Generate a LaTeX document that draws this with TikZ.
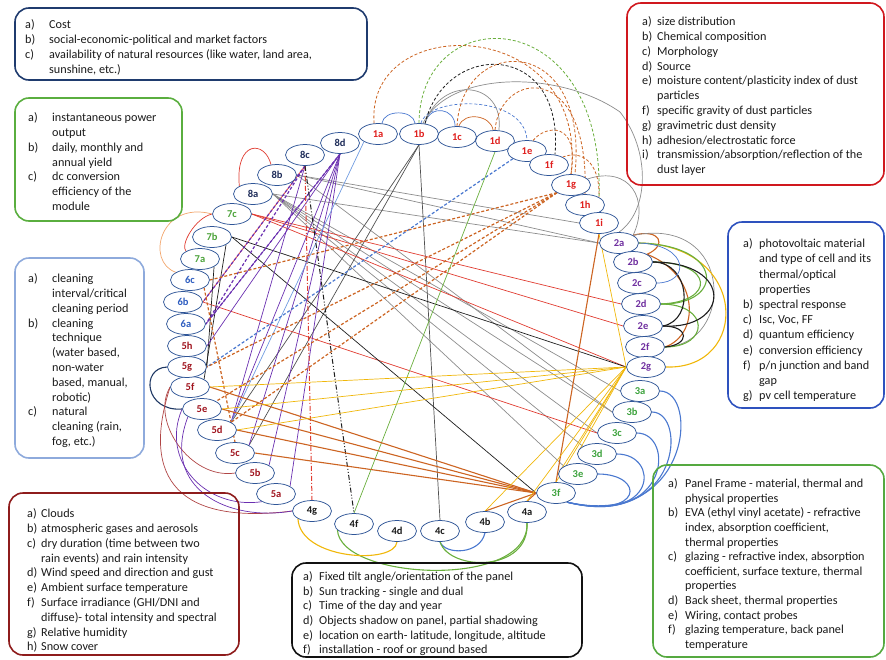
\documentclass[tikz,border=0pt]{standalone}
\usepackage{fontspec}
\setmainfont{Carlito}
\usetikzlibrary{shapes.geometric,backgrounds}
\definecolor{elb}{HTML}{2F5597}
\definecolor{c1}{HTML}{E0201E}
\definecolor{c2}{HTML}{7030A0}
\definecolor{c3}{HTML}{3DA33D}
\definecolor{c4}{HTML}{1A1A1A}
\definecolor{c5}{HTML}{A0141E}
\definecolor{c6}{HTML}{2E5DC0}
\definecolor{c7}{HTML}{4CA33A}
\definecolor{c8}{HTML}{1F2D5A}
\definecolor{cred}{HTML}{E03C31}
\definecolor{corange}{HTML}{CC6422}
\definecolor{cyellow}{HTML}{F0B70A}
\definecolor{cgray}{HTML}{8C8C8C}
\definecolor{cdgray}{HTML}{505050}
\definecolor{cblack}{HTML}{1E1E1E}
\definecolor{cpurple}{HTML}{6A2FB0}
\definecolor{clblue}{HTML}{6F9BE0}
\definecolor{cblue}{HTML}{4A78CF}
\definecolor{cgreen}{HTML}{6AAF3D}
\definecolor{cdred}{HTML}{B04545}
\definecolor{cnavy}{HTML}{1F3864}
\definecolor{cpeach}{HTML}{F2A56B}
\definecolor{bnavy}{HTML}{1F3B6E}
\definecolor{bgreen}{HTML}{5AAE3F}
\definecolor{blblue}{HTML}{8EAADC}
\definecolor{bdred}{HTML}{8E1C1C}
\definecolor{bblack}{HTML}{111111}
\definecolor{bred}{HTML}{D0181E}
\definecolor{bblue}{HTML}{2E52BE}
\definecolor{bgreenb}{HTML}{55A940}
\definecolor{txt}{HTML}{1A1A1A}
\newcommand{\lbl}[2]{\makebox[#1][l]{#2}}
\begin{document}
\begin{tikzpicture}[x=1pt,y=-1pt,
 el/.style={ellipse,draw=elb,line width=0.75pt,fill=white,minimum width=39pt,minimum height=21pt,inner sep=0pt,font=\fontsize{10.5}{11}\selectfont\bfseries},
 cn/.style={line width=0.7pt},
 thk/.style={line width=1.1pt},
 dsh/.style={line width=1.2pt,dash pattern=on 3pt off 2pt},
 bx/.style={rounded corners=14pt,line width=1.6pt},
 tx/.style={anchor=north west,inner sep=0pt,align=left,text=txt,font=\fontsize{12.2}{14.8}\selectfont},
]
\useasboundingbox (0,0) rectangle (886,659);

% ---- boxes
\draw[bx,draw=bnavy] (15,8) rectangle (367,80);
\draw[bx,draw=bgreen] (15,98) rectangle (182,221);
\draw[bx,draw=blblue] (15,258) rectangle (144,458);
\draw[bx,draw=bdred] (9,493) rectangle (239,655);
\draw[bx,draw=bblack] (292,563) rectangle (582,657);
\draw[bx,draw=bred] (627,3) rectangle (884,185);
\draw[bx,draw=bblue] (728,222) rectangle (884,408);
\draw[bx,draw=bgreenb] (653,465) rectangle (884,657);

\node[tx] (t1) at (25,19.5) {\lbl{24pt}{a)}Cost\\ \lbl{24pt}{b)}social-economic-political and market factors\\ \lbl{24pt}{c)}availability of natural resources (like water, land area,\\ \lbl{24pt}{}sunshine, etc.)};
\node[tx] (t2) at (28,112.5) {\lbl{24pt}{a)}instantaneous power\\ \lbl{24pt}{}output\\ \lbl{24pt}{b)}daily, monthly and\\ \lbl{24pt}{}annual yield\\ \lbl{24pt}{c)}dc conversion\\ \lbl{24pt}{}efficiency of the\\ \lbl{24pt}{}module};
\node[tx] (t3) at (28,273.5) {\lbl{24pt}{a)}cleaning\\ \lbl{24pt}{}interval/critical\\ \lbl{24pt}{}cleaning period\\ \lbl{24pt}{b)}cleaning\\ \lbl{24pt}{}technique\\ \lbl{24pt}{}(water based,\\ \lbl{24pt}{}non-water\\ \lbl{24pt}{}based, manual,\\ \lbl{24pt}{}robotic)\\ \lbl{24pt}{c)}natural\\ \lbl{24pt}{}cleaning (rain,\\ \lbl{24pt}{}fog, etc.)};
\node[tx] (t4) at (27,508.5) {\lbl{14pt}{a)}Clouds\\ \lbl{14pt}{b)}atmospheric gases and aerosols\\ \lbl{14pt}{c)}dry duration (time between two\\ \lbl{14pt}{}rain events) and rain intensity\\ \lbl{14pt}{d)}Wind speed and direction and gust\\ \lbl{14pt}{e)}Ambient surface temperature\\ \lbl{14pt}{f)}Surface irradiance (GHI/DNI and\\ \lbl{14pt}{}diffuse)- total intensity and spectral\\ \lbl{14pt}{g)}Relative humidity\\ \lbl{14pt}{h)}Snow cover};
\node[tx,font=\fontsize{12.2}{14.6}\selectfont] (t5) at (303,571.5) {\lbl{16pt}{a)}Fixed tilt angle/orientation of the panel\\ \lbl{16pt}{b)}Sun tracking - single and dual\\ \lbl{16pt}{c)}Time of the day and year\\ \lbl{16pt}{d)}Objects shadow on panel, partial shadowing\\ \lbl{16pt}{e)}location on earth- latitude, longitude, altitude\\ \lbl{16pt}{f)}installation - roof or ground based};
\node[tx] (t6) at (642,16.5) {\lbl{15pt}{a)}size distribution\\ \lbl{15pt}{b)}Chemical composition\\ \lbl{15pt}{c)}Morphology\\ \lbl{15pt}{d)}Source\\ \lbl{15pt}{e)}moisture content/plasticity index of dust\\ \lbl{15pt}{}particles\\ \lbl{15pt}{f)}specific gravity of dust particles\\ \lbl{15pt}{g)}gravimetric dust density\\ \lbl{15pt}{h)}adhesion/electrostatic force\\ \lbl{15pt}{i)}transmission/absorption/reflection of the\\ \lbl{15pt}{}dust layer};
\node[tx,font=\fontsize{12.2}{15.2}\selectfont] (t7) at (743,238.5) {\lbl{16pt}{a)}photovoltaic material\\ \lbl{16pt}{}and type of cell and its\\ \lbl{16pt}{}thermal/optical\\ \lbl{16pt}{}properties\\ \lbl{16pt}{b)}spectral response\\ \lbl{16pt}{c)}Isc, Voc, FF\\ \lbl{16pt}{d)}quantum efficiency\\ \lbl{16pt}{e)}conversion efficiency\\ \lbl{16pt}{f)}p/n junction and band\\ \lbl{16pt}{}gap\\ \lbl{16pt}{g)}pv cell temperature};
\node[tx,font=\fontsize{12.2}{14.6}\selectfont] (t8) at (668,478.5) {\lbl{17pt}{a)}Panel Frame - material, thermal and\\ \lbl{17pt}{}physical properties\\ \lbl{17pt}{b)}EVA (ethyl vinyl acetate) - refractive\\ \lbl{17pt}{}index, absorption coefficient,\\ \lbl{17pt}{}thermal properties\\ \lbl{17pt}{c)}glazing - refractive index, absorption\\ \lbl{17pt}{}coefficient, surface texture, thermal\\ \lbl{17pt}{}properties\\ \lbl{17pt}{d)}Back sheet, thermal properties\\ \lbl{17pt}{e)}Wiring, contact probes\\ \lbl{17pt}{f)}glazing temperature, back panel\\ \lbl{17pt}{}temperature};

% ---- ellipses
\node[el,text=c1] (1a) at (378,134) {1a};
\node[el,text=c1] (1b) at (419,134) {1b};
\node[el,text=c1] (1c) at (457,137) {1c};
\node[el,text=c1] (1d) at (495,141) {1d};
\node[el,text=c1] (1e) at (527,151) {1e};
\node[el,text=c1] (1f) at (549,165) {1f};
\node[el,text=c1] (1g) at (571,185) {1g};
\node[el,text=c1] (1h) at (585,205) {1h};
\node[el,text=c1] (1i) at (599,223) {1i};
\node[el,text=c2] (2a) at (619,243) {2a};
\node[el,text=c2] (2b) at (633,262) {2b};
\node[el,text=c2] (2c) at (637,283) {2c};
\node[el,text=c2] (2d) at (641,304) {2d};
\node[el,text=c2] (2e) at (643,326) {2e};
\node[el,text=c2] (2f) at (645,347) {2f};
\node[el,text=c2] (2g) at (646,367) {2g};
\node[el,text=c3] (3a) at (640,391) {3a};
\node[el,text=c3] (3b) at (632,412) {3b};
\node[el,text=c3] (3c) at (617,433) {3c};
\node[el,text=c3] (3d) at (597,454) {3d};
\node[el,text=c3] (3e) at (578,474) {3e};
\node[el,text=c3] (3f) at (556,493) {3f};
\node[el,text=c4] (4a) at (527,512) {4a};
\node[el,text=c4] (4b) at (485,522) {4b};
\node[el,text=c4] (4c) at (440,531) {4c};
\node[el,text=c4] (4d) at (397,531) {4d};
\node[el,text=c4] (4f) at (354,524) {4f};
\node[el,text=c4] (4g) at (312,511) {4g};
\node[el,text=c5] (5a) at (276,494) {5a};
\node[el,text=c5] (5b) at (255,473) {5b};
\node[el,text=c5] (5c) at (235,453) {5c};
\node[el,text=c5] (5d) at (217,430) {5d};
\node[el,text=c5] (5e) at (202,409) {5e};
\node[el,text=c5] (5f) at (190,387) {5f};
\node[el,text=c5] (5g) at (187,367) {5g};
\node[el,text=c5] (5h) at (187,346) {5h};
\node[el,text=c6] (6a) at (186,324) {6a};
\node[el,text=c6] (6b) at (183,302) {6b};
\node[el,text=c6] (6c) at (190,280) {6c};
\node[el,text=c7] (7a) at (200,259) {7a};
\node[el,text=c7] (7b) at (212,237) {7b};
\node[el,text=c7] (7c) at (232,214) {7c};
\node[el,text=c8] (8a) at (253,194) {8a};
\node[el,text=c8] (8b) at (277,175) {8b};
\node[el,text=c8] (8c) at (305,155) {8c};
\node[el,text=c8] (8d) at (340,143) {8d};

\begin{scope}[on background layer]
% ---- top arcs
\draw[cn,cblue] (1a.70) .. controls +(2,-14) and +(-2,-14) .. (1b.110);
\draw[cn,cblue] (1b.60) .. controls +(5,-20) and +(0,-18) .. (1c.100);
\draw[cn,cblue,dash pattern=on 3pt off 2pt] (1b.80) .. controls (430,95) and (525,95) .. (1e.north);
\draw[cn,corange] (1c.80) .. controls +(5,-15) and +(-2,-15) .. (1d.100);
\draw[cn,cgray] (1b.60) .. controls (440,75) and (505,80) .. (1d.70);
\draw[cn,cgray] (1b.70) .. controls (450,70) and (560,70) .. (620,112) .. controls (650,150) and (650,210) .. (2a.north);
\draw[cn,cgray] (1g.20) .. controls (630,165) and (650,200) .. (2a.north east);
\draw[dsh,corange,line width=0.8pt] (1a.110) .. controls (365,10) and (590,15) .. (1g.north);
\draw[dsh,cgreen,line width=0.8pt] (1b.north) .. controls (420,0) and (605,0) .. (1h.north east);
\draw[dsh,cblack,line width=0.8pt] (1b.60) .. controls (445,40) and (565,40) .. (1f.60);
\draw[dsh,corange,line width=0.8pt] (1c.north) .. controls (462,33) and (590,33) .. (1g.70);
\draw[dsh,corange,line width=0.8pt] (1d.north) .. controls (500,70) and (590,60) .. (1h.north);
\draw[dsh,corange,line width=0.8pt] (1e.60) .. controls (545,125) and (580,120) .. (1g.north);
\draw[dsh,corange,line width=0.8pt] (1f.30) .. controls (580,150) and (600,160) .. (1h.north east);

% ---- right arcs (2x)
\draw[thk,corange] (2a.north east) .. controls (660,228) and (668,245) .. (2b.north east) .. controls (700,275) and (700,335) .. (2f.east);
\draw[cn,cgray] (2a.north east) .. controls (735,215) and (735,345) .. (2f.east);
\draw[thk,cyellow] (2a.east) .. controls (750,245) and (750,370) .. (2g.east);
\draw[thk,cgreen] (2a.east) .. controls (725,245) and (725,305) .. (2d.east);
\draw[thk,cgreen] (2b.east) .. controls (715,262) and (715,302) .. (2d.east);
\draw[thk,cgreen] (2d.east) .. controls (710,304) and (710,347) .. (2f.east);
\draw[thk,cblack] (2b.east) .. controls (735,262) and (730,330) .. (2e.east);
\draw[thk,cblack] (2b.east) .. controls (690,262) and (695,320) .. (2e.east);
\draw[thk,cblack] (2e.east) .. controls (690,326) and (690,345) .. (2f.east);
\draw[cn,cblue] (2a.east) .. controls (690,245) and (690,283) .. (2c.east);

% ---- right arcs (3x)
\draw[thk,cblue] (3a.east) .. controls (700,391) and (690,530) .. (3f.-40);
\draw[thk,cblue] (3b.east) .. controls (688,412) and (680,530) .. (3f.-40);
\draw[thk,cblue] (3c.east) .. controls (675,433) and (670,528) .. (3f.-40);
\draw[thk,cblue] (3d.east) .. controls (660,454) and (658,525) .. (3f.-40);
\draw[thk,cblue] (3e.east) .. controls (645,474) and (645,520) .. (3f.-40);

% ---- bottom arcs
\draw[thk,cblue] (4c.south) .. controls (445,555) and (480,555) .. (4b.south);
\draw[thk,cgreen] (4c.south) .. controls (450,572) and (530,572) .. (4a.south);
\draw[thk,cgreen] (4f.200) .. controls (340,580) and (530,590) .. (4a.south);
\draw[thk,cyellow] (4g.south west) .. controls (300,560) and (395,565) .. (4d.south);

% ---- left arcs
\draw[cn,cred] (8a.150) .. controls (235,140) and (265,140) .. (8b.120);
\draw[cn,cred] (7c.west) .. controls (195,218) and (180,245) .. (7a.north west);
\draw[cn,cpeach] (7c.west) .. controls (160,200) and (145,262) .. (6c.north west);
\draw[thk,cnavy] (5g.west) .. controls (140,368) and (145,412) .. (5e.west);
\draw[cn,cdred] (5f.west) .. controls (150,420) and (190,480) .. (5b.west);
\draw[cn,cdred] (5f.west) .. controls (140,480) and (180,525) .. (4g.west);
\draw[cn,cpurple] (5e.west) .. controls (160,460) and (205,510) .. (5a.south west);
\draw[cn,cpurple] (5e.south west) .. controls (160,490) and (230,522) .. (4g.west);

% ---- straight connectors
\foreach \t/\a in {2a/west,3a/west,3b/west,3c/west,3d/north west,3e/north west}
  \draw[cn,cgray] (8a.east) -- (\t.\a);
\draw[cn,cgray] (8b.east) -- (2a.west);
\draw[cn,cgray] (8b.east) -- (3b.west);
\draw[cn,cgray] (8b.east) -- (1i.west);
\draw[cn,cdgray] (1b.south) -- (5d.north east);
\draw[cn,cdgray] (1b.south) -- (5c.north east);
\draw[cn,cdgray] (1b.south) -- (4c.north);
\draw[cn,cred] (7c.east) -- (2d.west);
\draw[cn,cred] (7c.east) -- (2e.west);
\draw[cn,cred] (7c.east) -- (2g.west);
\draw[cn,cred] (6b.east) -- (3c.west);
\draw[cn,cred] (6b.east) -- (8c.south);
\draw[cn,cblack] (7b.east) -- (2g.west);
\draw[cn,cblack] (7b.east) -- (3f.west);
\draw[cn,cblack] (7b.south east) -- (5f.north east);
\draw[cn,cblack] (7a.south east) -- (5g.east);
\foreach \t/\a in {6a/east,5h/east,5d/north east,5c/north east,5b/north east,5a/north east}
  \draw[cn,cpurple] (8d.south) -- (\t.\a);
\draw[cn,cpurple] (8c.south) -- (5d.north east);
\draw[dsh,cpurple] (8c.south) -- (6a.east);
\draw[dsh,cpurple] (8c.south) -- (6b.east);
\draw[dsh,cpurple] (8d.south) -- (6a.east);
\draw[cn,clblue] (1a.south west) -- (5d.north east);
\draw[dsh,cblue] (1e.south west) -- (5g.east);
\foreach \t/\a in {6c/east,5g/east,5e/north east,5d/north east}
  \draw[dsh,corange] (1g.south west) -- (\t.\a);
\draw[dsh,corange] (6c.south east) -- (5c.north);
\draw[cn,cgreen] (1d.south) -- (4f.north);
\draw[line width=1pt,cred,dash pattern=on 5pt off 2pt on 1pt off 2pt] (8c.south) -- (4g.north);
\draw[line width=1pt,cblack,dash pattern=on 5pt off 2pt on 1pt off 2pt on 1pt off 2pt] (8c.south) -- (4f.north);
\foreach \s in {5f,5e,5d,5c}
  \draw[thk,corange] (\s.east) -- (3f.west);
\draw[thk,corange] (1i.south) -- (3f.north);
\draw[thk,corange] (3f.west) -- (4b.north);
\draw[thk,corange] (3f.west) -- (4a.north);
\foreach \t/\a in {5f/east,5e/east,5d/east,4b/north,4a/north,3f/north,3e/west,3d/west}
  \draw[cn,cyellow] (2g.west) -- (\t.\a);
\draw[cn,cyellow] (1i.south) -- (2g.west);
\end{scope}
\end{tikzpicture}
\end{document}
